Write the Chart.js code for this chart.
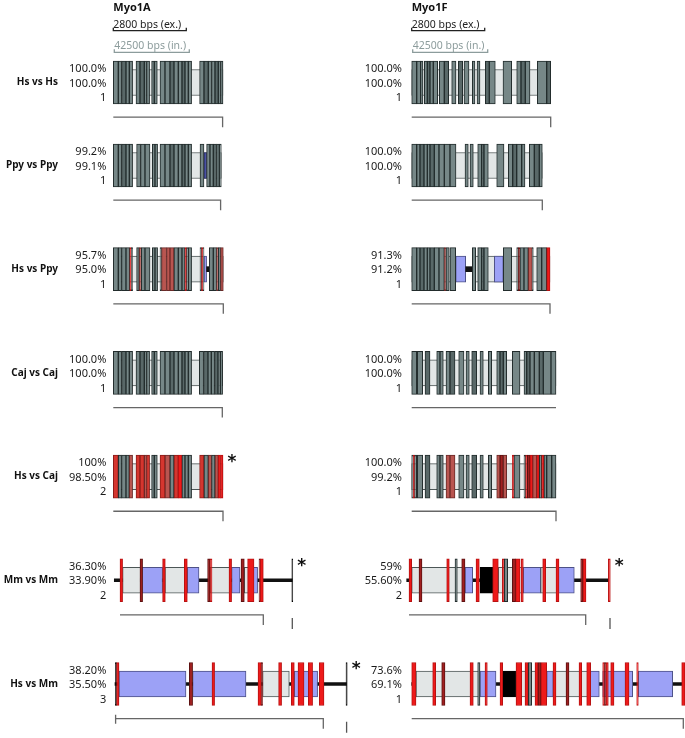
<!DOCTYPE html>
<html>
<head>
<meta charset="utf-8">
<script src="https://cdn.jsdelivr.net/npm/chart.js@4.4.1/dist/chart.umd.min.js"></script>
<style>
  html, body { margin: 0; background: #fff; }
  #wrap { position: relative; width: 685px; height: 738px; }
</style>
</head>
<body>
<div id="wrap"><canvas id="id_canv" width="685" height="738"></canvas></div>
<script>
// genes (columns) and comparisons (rows)
const genes = ['Myo1A', 'Myo1F']
const comparisons = ['Hs vs Hs', 'Ppy vs Ppy', 'Hs vs Ppy', 'Caj vs Caj', 'Hs vs Caj', 'Mm vs Mm', 'Hs vs Mm']

// the three numbers left of every gene model
const identityA = ['100.0%', '99.2%', '95.7%', '100.0%', '100%', '36.30%', '38.20%']
const similarityA = ['100.0%', '99.1%', '95.0%', '100.0%', '98.50%', '33.90%', '35.50%']
const copiesA = ['1', '1', '1', '1', '2', '2', '3']
const identityF = ['100.0%', '100.0%', '91.3%', '100.0%', '100.0%', '59%', '73.6%']
const similarityF = ['100.0%', '100.0%', '91.2%', '100.0%', '99.2%', '55.60%', '69.1%']
const copiesF = ['1', '1', '1', '1', '1', '2', '1']
const starA = [false, false, false, false, true, true, true]
const starF = [false, false, false, false, false, true, false]

// scale bars (length in drawing units) and their labels
const scaleBarLen = [73, 75]
const scaleBarLabels = ['2800 bps (ex.)', '42500 bps (in.)']

// exon blocks: [colour codes, boundary, boundary, ...] relative to gene start
// g/G grey, m muted red, r red, R bright red, d dark red, k black
const exonsA = [
  [['ggGgg', 0, 5, 8.3, 12.7, 16, 19.3], ['gGgg', 22.7, 26.7, 31, 33.3, 36.3], ['gg', 38.3, 41, 44],
   ['ggGggGgg', 46.7, 51.7, 56.7, 60.7, 65, 68.7, 71.7, 75, 78.3], ['gGggGgg', 86.3, 90.7, 95, 98.3, 101.7, 105, 107.3, 109.7]],
  [['ggGgg', 0, 5, 8.3, 12.7, 16, 19.3], ['ggg', 23.3, 27.3, 31.7, 36.7], ['gg', 39, 41.7, 44.3],
   ['ggGggGgg', 46.7, 51.7, 56.7, 60.7, 65, 68.7, 71.7, 75, 78.3], ['g', 86.7, 90.7], ['ggGgg', 93.3, 96.7, 100, 103.3, 106, 108]],
  [['ggggRg', 0, 5, 8.3, 12.7, 16.5, 18, 19.3], ['gmgg', 23.3, 26, 28, 31.7, 36.7], ['gg', 39, 41.7, 44.3],
   ['gmmmgggRgg', 46.7, 48.3, 53.3, 56.7, 60.7, 65, 68.7, 71.7, 73.3, 75, 78.3], ['gRg', 86.7, 88.3, 89.7, 90.7],
   ['ggmgm', 96, 100, 103.3, 105, 107.3, 110]],
  [['ggGgg', 0, 5, 8.3, 12.7, 16, 19.3], ['gGgg', 22.7, 26.7, 31, 33.3, 36.3], ['gg', 38.3, 41, 44],
   ['ggGggGgg', 46.7, 51.7, 56.7, 60.7, 65, 68.7, 71.7, 75, 78.3], ['gGggGgg', 86, 90.3, 94.7, 98, 101.3, 104.7, 107, 109.3]],
  [['rgggm', 0, 5, 8.3, 12.7, 16, 19.3], ['rrmr', 22.7, 26.7, 31, 33.3, 36.3], ['gg', 38.3, 41, 44],
   ['rmgrRggg', 46.7, 51.7, 56.7, 60.7, 65, 68.7, 71.7, 75, 78.3], ['rgmgmRR', 86.3, 90.7, 95, 98.3, 101.7, 105, 107.3, 109.7]],
  [['R', 6.7, 9.3], ['d', 26.7, 29.3], ['R', 49.3, 52], ['R', 71, 74], ['d', 94.3, 96.7], ['R', 96.7, 98.7],
   ['R', 115.7, 118.3], ['d', 127.7, 131], ['R', 134.3, 140.7], ['dR', 145.7, 147, 150], ['k', 178.5, 179.5]],
  [['kR', 2, 3.3, 5.7], ['d', 76, 79.3], ['R', 98.7, 101.3], ['Rd', 144.7, 148, 149.3], ['R', 165.3, 168.3],
   ['R', 178, 181], ['R', 184.7, 190.7], ['R', 195, 199.3], ['R', 206, 210.7], ['k', 232.7, 233.9]]
]
const exonsF = [
  [['ggg', 2.7, 7.7, 11.7, 14], ['gGgg', 15.3, 18.3, 21, 24.3, 28.7], ['gG', 30.3, 35.3, 39.7], ['g', 42.7, 47],
   ['G', 49.3, 53.7], ['g', 55, 60], ['g', 63.3, 66], ['g', 68, 71], ['Gg', 76.3, 80.3, 86.3], ['g', 94, 102.7],
   ['gGg', 107.7, 112, 116.3, 121], ['gG', 128.3, 137.7, 141.7]],
  [['ggGggGgggg', 2.7, 7.7, 11, 15, 18.3, 21, 25.3, 30, 35.3, 41, 47], ['g', 56, 59.3], ['g', 61, 64.3],
   ['gGg', 68.7, 72.7, 75, 79.3], ['g', 87.7, 95], ['gGgg', 99.3, 103.7, 107.7, 112.7, 116], ['gGg', 120.3, 125.3, 130.3, 133.3]],
  [['ggGggGggmg', 2.7, 7.7, 11, 15, 18.3, 21, 25.3, 30, 35.3, 37, 40.3], ['g', 41, 46.7], ['g', 63.3, 66.7],
   ['gGg', 68.7, 72.7, 75, 79.3], ['g', 94.3, 102.7], ['gdggmg', 107.7, 109.3, 111, 115, 119.3, 123.3, 124.3],
   ['ggR', 127.7, 132.7, 137.7, 141]],
  [['g', 2.7, 7.7], ['g', 8.3, 13.7], ['G', 16, 21], ['gg', 27.7, 31, 34.3], ['gG', 37, 41, 46], ['g', 49.7, 55],
   ['g', 57, 60.3], ['G', 62.7, 67.7], ['g', 71, 74.3], ['g', 79.3, 82.7], ['gGg', 87.7, 91, 94.3, 97.7], ['g', 103.3, 111],
   ['gGggGgg', 115, 117.7, 121, 125.3, 130.3, 134.3, 142, 147]],
  [['gRg', 2.7, 4.3, 5.7, 7.7], ['g', 8.3, 13.7], ['G', 16, 21], ['gg', 27.7, 31, 34.3], ['mm', 37, 41, 46], ['g', 49.7, 55],
   ['g', 57, 60.3], ['G', 62.7, 67.7], ['g', 71, 74.3], ['g', 79.3, 82.7], ['mdm', 87.7, 91, 94.3, 97.7], ['Rg', 103.3, 105, 111],
   ['gRdRmRgRggg', 115, 116.7, 118.3, 121, 123.7, 127.7, 130.3, 132.7, 135, 137.7, 142.7, 147]],
  [['R', 0, 2.7], ['d', 10, 13], ['R', 37.7, 40.3], ['g', 46, 48.3], ['d', 52.7, 56], ['R', 67, 70.3], ['R', 83.7, 89.3],
   ['R', 93.3, 95.3], ['g', 95.3, 98.7], ['d', 103.3, 106.7], ['R', 106.7, 111], ['R', 112, 114.3], ['R', 133.7, 136.7],
   ['R', 147, 150], ['dR', 171.7, 174, 177], ['R', 199.3, 201.3]],
  [['R', 2.7, 7], ['R', 23.7, 26.7], ['d', 32.7, 36], ['R', 61, 64.3], ['g', 68.7, 71], ['R', 76, 78.3], ['R', 91, 93.7],
   ['R', 107, 112.7], ['R', 116, 119.3], ['g', 119.3, 122.7], ['RdR', 126, 129, 132, 137.7], ['R', 144, 147], ['d', 157, 160],
   ['R', 170, 172.7], ['R', 177.7, 181.7], ['RdR', 193.7, 195.5, 197, 199.3], ['R', 201.7, 205], ['R', 216, 220],
   ['R', 227.7, 229.3], ['R', 272.7, 276]]
]

// intron boxes: [type, start, end]  l light, b blue, B dark blue, k black
const boxesA = [
  [['l', 0, 109.7]],
  [['l', 0, 108], ['B', 90.7, 93.3]],
  [['l', 0, 90.7], ['b', 90.7, 93.3], ['l', 96, 110]],
  [['l', 0, 109.3]],
  [['l', 0, 109.7]],
  [['l', 9.3, 27.3], ['b', 28.3, 49.3], ['l', 51.7, 71.7], ['b', 74, 85.7], ['l', 96.7, 116.7], ['b', 118.3, 126.7],
   ['l', 131, 135.7], ['b', 140, 144.3]],
  [['b', 5.7, 72.7], ['b', 79.3, 132.7], ['l', 149.3, 176], ['b', 181, 204.3]]
]
const boxesF = [
  [['l', 2.7, 141.7]],
  [['l', 2.7, 133.3]],
  [['l', 2.7, 46.7], ['b', 46.7, 56.7], ['l', 63.3, 141], ['b', 85.3, 94.3]],
  [['l', 2.7, 147]],
  [['l', 2.7, 147]],
  [['l', 2.7, 56], ['b', 56, 63.7], ['k', 71, 83.7], ['l', 89.3, 114.3], ['b', 114.3, 131.7], ['l', 131.7, 147.7],
   ['b', 149.3, 165.3]],
  [['l', 7, 71], ['b', 71, 87], ['k', 93.7, 107], ['l', 107, 137.7], ['b', 137.7, 144.3], ['l', 144.3, 181],
   ['b', 181, 190.3], ['b', 193.7, 223.7], ['b', 229.3, 263.7]]
]

// thick black intron line and short black intron dashes
const intronLineA = [null, null, null, null, null, [1, 179], [1.7, 233.3]]
const intronLineF = [null, null, null, null, null, [-2.3, 199.3], [2.7, 285]]
const dashesA = [[], [], [[93.3, 96]], [], [], [], []]
const dashesF = [[], [], [[56.7, 63.3]], [], [], [], []]

// aligned span below every model, how its end is marked, and a lone tick further right
const spanA = [[0, 109.3], [0, 107.3], [0, 110], [0, 109], [0, 109.7], [6.7, 150], [2.3, 210]]
const spanF = [[2.7, 141.7], [2.7, 133.3], [2.7, 141], [2.7, 147], [2.7, 147], [0, 176.7], [2.7, 274.3]]
const spanTickA = ['end', 'end', 'end', 'end', 'end', 'end', 'both']
const spanTickF = ['end', 'end', 'end', 'none', 'end', 'end', 'end']
const loneTickA = [null, null, null, null, null, 179, 233.3]
const loneTickF = [null, null, null, null, null, 201, null]

// ---- layout ----
const ROW_PX = 103.7          // pixels per row unit
const TOP_PX = 82.5           // centre of the first row
const rowY = [0, 0.8, 1.8, 2.8, 3.8, 4.8, 5.8]
const colX = [113.3, 409]
const off = px => px / ROW_PX

const exonFill = { g: '#768787', G: '#596868', m: '#b95550', r: '#d5362f', R: '#ee1a1a', d: '#a02020', k: '#151515' }
const exonEdge = { g: '#222c2c', G: '#222c2c', m: '#6a2a28', r: '#8a1c18', R: '#b81212', d: '#5c1010', k: '#000000' }
const boxFill = { l: '#e2e6e6', b: '#9ca1f6', B: '#4d56a8', k: '#000000' }
const boxEdge = { l: '#4c5656', b: '#4d5186', B: '#2e3370', k: '#000000' }

let exonData = [], exonBg = [], exonBd = []
let boxData = [], boxBg = [], boxBd = []
let lineData = [], dashData = []
let lineSets = []

function segment(points, color, width) {
  lineSets.push({
    type: 'line', data: points, borderColor: color, borderWidth: width,
    pointRadius: 0, fill: false, tension: 0, order: 1
  })
}

const panels = [
  [exonsA, boxesA, intronLineA, dashesA, spanA, spanTickA, loneTickA],
  [exonsF, boxesF, intronLineF, dashesF, spanF, spanTickF, loneTickF]
]

panels.forEach((p, c) => {
  const [exons, boxes, iline, dashes, span, spanTick, lone] = p
  const x0 = colX[c]
  rowY.forEach((y, r) => {
    exons[r].forEach(b => {
      const codes = b[0]
      for (let k = 0; k < codes.length; k++) {
        exonData.push({ x: [x0 + b[k + 1], x0 + b[k + 2]], y: y })
        exonBg.push(exonFill[codes[k]])
        exonBd.push(exonEdge[codes[k]])
      }
    })
    boxes[r].forEach(b => {
      boxData.push({ x: [x0 + b[1], x0 + b[2]], y: y })
      boxBg.push(boxFill[b[0]])
      boxBd.push(boxEdge[b[0]])
    })
    if (iline[r]) lineData.push({ x: [x0 + iline[r][0], x0 + iline[r][1]], y: y })
    dashes[r].forEach(d => dashData.push({ x: [x0 + d[0], x0 + d[1]], y: y }))

    // bracket under the model
    const by = y + off(34.7)
    const s = x0 + span[r][0], e = x0 + span[r][1]
    const pts = [{ x: s, y: by }, { x: e, y: by }]
    if (spanTick[r] !== 'none') pts.push({ x: e, y: by + off(10) })
    segment(pts, '#666', 1.3)
    if (spanTick[r] === 'both') segment([{ x: s, y: by - off(4) }, { x: s, y: by + off(5) }], '#666', 1.3)
    if (lone[r] !== null) segment([{ x: x0 + lone[r], y: by + off(3) }, { x: x0 + lone[r], y: by + off(14) }], '#555', 1.3)
  })

  // scale bars above the first row
  const sx = x0 + exons[0][0][1]
  const exY = off(-51.8), inY = off(-30.2)
  segment([{ x: sx, y: exY - off(3) }, { x: sx, y: exY }, { x: sx + scaleBarLen[0], y: exY }, { x: sx + scaleBarLen[0], y: exY - off(3) }], '#222', 1.3)
  segment([{ x: sx + 1, y: inY - off(3) }, { x: sx + 1, y: inY }, { x: sx + 1 + scaleBarLen[1], y: inY }, { x: sx + 1 + scaleBarLen[1], y: inY - off(3) }], '#8c9c9c', 1.3)
})

function geneEnd(c, r) {
  const p = panels[c]
  let end = 0
  p[0][r].forEach(b => { end = Math.max(end, b[b.length - 1]) })
  if (p[2][r]) end = Math.max(end, p[2][r][1])
  return colX[c] + end
}

const textPlugin = {
  id: 'texts',
  afterDatasetsDraw(chart) {
    const { ctx, scales: { x, y } } = chart
    ctx.save()
    ctx.textBaseline = 'middle'
    const ids = [identityA, identityF], sims = [similarityA, similarityF], cps = [copiesA, copiesF]
    const stars = [starA, starF]
    comparisons.forEach((name, r) => {
      const cy = y.getPixelForValue(rowY[r])
      ctx.font = 'bold 10px "Noto Sans"'
      ctx.fillStyle = '#111'
      ctx.textAlign = 'right'
      ctx.fillText(name, 58, cy)
      for (let c = 0; c < 2; c++) {
        const px = x.getPixelForValue(colX[c]) - 7
        ctx.font = '11px "Noto Sans"'
        ctx.textAlign = 'right'
        ctx.fillStyle = '#1a1a1a'
        ctx.fillText(ids[c][r], px, cy - 13.5)
        ctx.fillText(sims[c][r], px, cy + 1)
        ctx.fillText(cps[c][r], px, cy + 15.5)
        if (stars[c][r]) {
          ctx.font = 'bold 17px "DejaVu Sans"'
          ctx.textAlign = 'center'
          ctx.fillStyle = '#111'
          ctx.fillText('*', x.getPixelForValue(geneEnd(c, r)) + 9, cy - 14)
        }
      }
    })
    // gene titles and scale bar labels
    const y0 = y.getPixelForValue(0)
    genes.forEach((g, c) => {
      const sx = x.getPixelForValue(colX[c] + panels[c][0][0][0][1])
      ctx.textAlign = 'left'
      ctx.font = 'bold 11px "Noto Sans"'
      ctx.fillStyle = '#111'
      ctx.fillText(g, sx, y0 - 74.5)
      ctx.font = '10.5px "Noto Sans"'
      ctx.fillStyle = '#222'
      ctx.fillText(scaleBarLabels[0], sx, y0 - 57.5)
      ctx.fillStyle = '#8c9c9c'
      ctx.fillText(scaleBarLabels[1], sx + 1, y0 - 36)
    })
    ctx.restore()
  }
}

const barBase = { type: 'bar', indexAxis: 'y', grouped: false, borderSkipped: false }
const H = 738, W = 685

new Chart(document.getElementById('id_canv').getContext('2d'), {
  type: 'bar',
  data: {
    datasets: [
      Object.assign({}, barBase, { data: lineData, backgroundColor: '#111', borderWidth: 0, barThickness: 3, order: 5 }),
      Object.assign({}, barBase, { data: boxData, backgroundColor: boxBg, borderColor: boxBd, borderWidth: 1, barThickness: 26, order: 4 }),
      Object.assign({}, barBase, { data: dashData, backgroundColor: '#111', borderWidth: 0, barThickness: 5, order: 3 }),
      Object.assign({}, barBase, { data: exonData, backgroundColor: exonBg, borderColor: exonBd, borderWidth: 1, barThickness: 43, order: 2 })
    ].concat(lineSets)
  },
  options: {
    responsive: false,
    animation: false,
    events: [],
    layout: { padding: 0 },
    plugins: { legend: { display: false }, tooltip: { enabled: false }, title: { display: false } },
    scales: {
      x: { type: 'linear', min: 0, max: W, display: false, offset: false },
      y: { type: 'linear', min: -TOP_PX / ROW_PX, max: (H - TOP_PX) / ROW_PX, reverse: true, display: false, offset: false }
    }
  },
  plugins: [textPlugin]
})
</script>
</body>
</html>
